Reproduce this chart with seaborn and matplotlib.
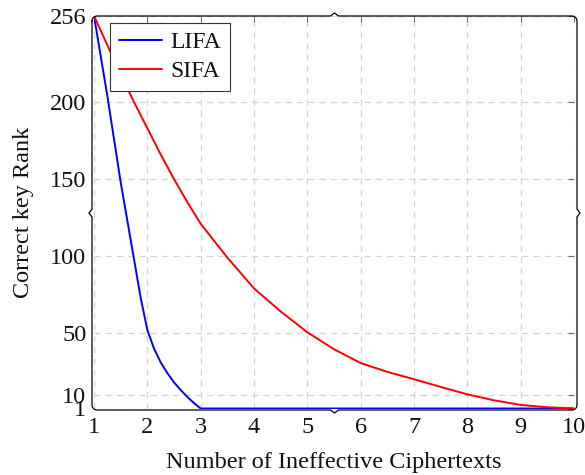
import numpy as np
import matplotlib
matplotlib.use('Agg')
import matplotlib.pyplot as plt
import seaborn as sns
from matplotlib.lines import Line2D

# Datos
lifa_x = [1, 1.25, 1.5, 1.75, 1.875, 2, 2.125, 2.25, 2.375, 2.5, 2.625, 2.75, 2.875, 3,
          4, 5, 6, 7, 8, 9, 10]
lifa_y = [256, 204, 148, 98, 73, 52, 40, 31, 24, 18, 13, 8.5, 4.5, 1,
          1, 1, 1, 1, 1, 1, 1]

sifa_x = [1, 1.25, 1.5, 1.75, 2, 2.25, 2.5, 2.75, 3, 3.25, 3.5, 3.75, 4, 4.5, 5, 5.5,
          6, 6.5, 7, 7.5, 8, 8.5, 9, 9.5, 10]
sifa_y = [256, 237, 218, 200, 183, 166, 150, 135, 121, 110, 99, 89, 79, 64, 50.5, 39.5,
          30.5, 24.8, 20, 15, 10.2, 6.3, 3.3, 1.8, 1]

x_ticks = [1, 2, 3, 4, 5, 6, 7, 8, 9, 10]
y_ticks = [1, 10, 50, 100, 150, 200, 256]

sns.set_style('white')
plt.rcParams['font.family'] = ['Liberation Serif', 'DejaVu Serif']

W, H = 585, 475
fig = plt.figure(figsize=(W / 100, H / 100), dpi=100)
ax = fig.add_axes([94 / W, 1 - 408.5 / H, 480 / W, (408.5 - 15.8) / H])

sns.lineplot(x=lifa_x, y=lifa_y, color='#0000ff', lw=1.4, label='LIFA',
             estimator=None, sort=False, ax=ax)
sns.lineplot(x=sifa_x, y=sifa_y, color='#ff0000', lw=1.4, label='SIFA',
             estimator=None, sort=False, ax=ax)

ax.set_xlim(1, 10)
ax.set_ylim(1, 256)
ax.set_xticks(x_ticks)
ax.set_yticks(y_ticks)
ax.set_xticklabels([str(t) for t in x_ticks])
ax.set_yticklabels([str(t) for t in y_ticks])
ax.tick_params(axis='both', direction='in', length=4, width=0.8, color='#707070',
               labelsize=17.5, labelcolor='#111111', top=True, right=True)
ax.tick_params(axis='x', pad=6)
ax.tick_params(axis='y', pad=5.5)
ax.grid(True, color='#d4d4d4', linestyle=(0, (5, 4)), linewidth=0.9)

ax.set_xlabel('Number of Ineffective Ciphertexts', fontsize=17.5, labelpad=10,
              color='#111111')
ax.set_ylabel('Correct key Rank', fontsize=17.5, labelpad=11, color='#111111')

for s in ax.spines.values():
    s.set_visible(False)

leg = ax.legend(loc='upper left', bbox_to_anchor=(0.033, 0.982), borderaxespad=0,
                fontsize=17, fancybox=False, framealpha=1, edgecolor='#333333',
                handlelength=1.85, handletextpad=0.35, labelspacing=0.3,
                borderpad=0.38)
leg.get_frame().set_linewidth(0.8)
for t in leg.get_texts():
    t.set_color('#111111')

# Marco redondeado con pequeñas llaves en el centro de cada lado (en píxeles)
L, R, T, B = 92, 577, 16, 410
r = 5
n = 8
def arco(cx, cy, a0, a1):
    a = np.linspace(np.radians(a0), np.radians(a1), n)
    return list(zip(cx + r * np.cos(a), cy - r * np.sin(a)))

mx, my = (L + R) / 2, (T + B) / 2
d, e = 4, 3
pts = []
pts += arco(L + r, T + r, 180, 90)
pts += [(mx - d, T), (mx, T - e), (mx + d, T)]
pts += arco(R - r, T + r, 90, 0)
pts += [(R, my - d), (R + e, my), (R, my + d)]
pts += arco(R - r, B - r, 0, -90)
pts += [(mx + d, B), (mx, B + e), (mx - d, B)]
pts += arco(L + r, B - r, -90, -180)
pts += [(L, my + d), (L - e, my), (L, my - d)]
pts.append(pts[0])
px = [p[0] / W for p in pts]
py = [1 - p[1] / H for p in pts]
fig.add_artist(Line2D(px, py, color='black', lw=0.9, transform=fig.transFigure))

plt.savefig('out.png', dpi=100)
